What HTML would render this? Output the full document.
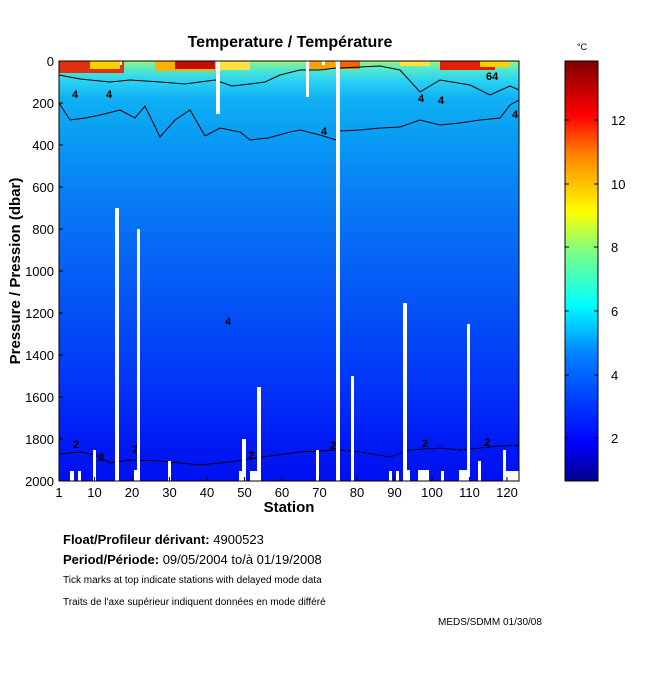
<!DOCTYPE html>
<html><head><meta charset="utf-8"><style>
body{margin:0;background:#fff;width:650px;height:680px;position:relative;font-family:"Liberation Sans",sans-serif;overflow:hidden}
.t{position:absolute;white-space:nowrap;color:#000}
</style></head><body>
<svg width="650" height="680" style="position:absolute;left:0;top:0" font-family="Liberation Sans, sans-serif">
<defs>
<linearGradient id="bg" x1="0" y1="0" x2="0" y2="1">
<stop offset="0" stop-color="#a0f070"/>
<stop offset="0.02" stop-color="#50e8d0"/>
<stop offset="0.05" stop-color="#28d0f4"/>
<stop offset="0.09" stop-color="#10b0f4"/>
<stop offset="0.2" stop-color="#0898f4"/>
<stop offset="0.35" stop-color="#0878f4"/>
<stop offset="0.55" stop-color="#0458f6"/>
<stop offset="0.75" stop-color="#0238f8"/>
<stop offset="0.92" stop-color="#0018f4"/>
<stop offset="1" stop-color="#0010f0"/>
</linearGradient>
<linearGradient id="cb" x1="0" y1="1" x2="0" y2="0">
<stop offset="0" stop-color="#00008c"/>
<stop offset="0.09" stop-color="#0000ff"/>
<stop offset="0.3" stop-color="#0080ff"/>
<stop offset="0.42" stop-color="#00ffff"/>
<stop offset="0.55" stop-color="#80ff80"/>
<stop offset="0.64" stop-color="#ffff00"/>
<stop offset="0.78" stop-color="#ff8000"/>
<stop offset="0.87" stop-color="#ff0000"/>
<stop offset="1" stop-color="#800000"/>
</linearGradient>
</defs>
<rect x="59" y="61" width="460" height="420" fill="url(#bg)"/>
<rect x="59" y="61" width="65" height="12" fill="#e03010"/>
<rect x="90" y="61" width="30" height="8" fill="#ffd000"/>
<rect x="155" y="61" width="60" height="10" fill="#ffb000"/>
<rect x="175" y="61" width="40" height="8" fill="#c01000"/>
<rect x="220" y="61" width="30" height="9" fill="#ffe040"/>
<rect x="310" y="61" width="25" height="8" fill="#ffa000"/>
<rect x="340" y="61" width="20" height="8" fill="#ff6000"/>
<rect x="400" y="61" width="30" height="5" fill="#ffe040"/>
<rect x="440" y="61" width="55" height="9" fill="#e02000"/>
<rect x="480" y="61" width="30" height="6" fill="#ffd000"/>
<g fill="none" stroke="#000" stroke-width="1">
<path d="M59,75 L80,79 L110,82 L130,80 L160,82 L185,84 L215,80 L232,86 L250,84 L265,82 L280,75 L300,70 L320,70 L336,68"/>
<path d="M340,68 L380,66 L400,70 L420,92 L440,80 L470,85 L490,95 L510,86 L519,90"/>
<path d="M59,103 L70,120 L85,118 L100,115 L120,110 L135,118 L145,106 L160,137 L175,120 L190,110 L205,136 L220,128 L240,132 L250,140 L268,138 L290,132 L300,130 L320,135 L336,140"/>
<path d="M340,131 L360,130 L380,128 L400,127 L420,120 L440,125 L460,123 L480,120 L500,118 L510,105 L519,100"/>
<path d="M59,454 L80,452 L95,455 L110,463 L130,460 L160,461 L200,465 L230,462 L250,459 L270,456 L300,452 L335,450"/>
<path d="M340,450 L360,452 L390,457 L410,450 L440,448 L460,450 L480,448 L500,446 L519,445" stroke-dasharray="6,1"/>
</g>
<g font-size="11" font-weight="bold">
<text x="72" y="98">4</text><text x="106" y="98">4</text><text x="321" y="135">4</text><text x="418" y="102">4</text><text x="438" y="104">4</text><text x="512" y="118">4</text>
<text x="486" y="80">64</text><text x="225" y="325">4</text>
<text x="73" y="448">2</text><text x="132" y="453">2</text><text x="330" y="449">2</text><text x="422" y="447">2</text><text x="484" y="446">2</text><text x="248" y="459">2</text><text x="98" y="461">2</text>
</g>
<g fill="#fff">
<rect x="115" y="208" width="4" height="273"/>
<rect x="137" y="229" width="3" height="252"/>
<rect x="216" y="61" width="4" height="53"/>
<rect x="306" y="61" width="3" height="36"/>
<rect x="257" y="387" width="4" height="94"/>
<rect x="336" y="61" width="4" height="420"/>
<rect x="351" y="376" width="3" height="105"/>
<rect x="403" y="303" width="4" height="178"/>
<rect x="467" y="324" width="3" height="157"/>
<rect x="242" y="439" width="4" height="42"/>
<rect x="70" y="471" width="4" height="10"/><rect x="78" y="471" width="3" height="10"/>
<rect x="93" y="450" width="3" height="31"/><rect x="134" y="470" width="6" height="11"/>
<rect x="168" y="461" width="3" height="20"/><rect x="239" y="471" width="3" height="10"/>
<rect x="250" y="471" width="11" height="10"/><rect x="316" y="450" width="3" height="31"/>
<rect x="389" y="471" width="3" height="10"/><rect x="396" y="471" width="3" height="10"/>
<rect x="404" y="470" width="6" height="11"/><rect x="418" y="470" width="11" height="11"/>
<rect x="441" y="471" width="3" height="10"/><rect x="459" y="470" width="9" height="11"/>
<rect x="478" y="461" width="3" height="20"/><rect x="503" y="450" width="3" height="31"/>
<rect x="505" y="471" width="14" height="10"/>
<rect x="120" y="61" width="2" height="4"/><rect x="322" y="61" width="3" height="4"/>
</g>
<rect x="59" y="61" width="460" height="420" fill="none" stroke="#000"/>
<g stroke="#000">
<path d="M59,481v-4M94.5,481v-4M132,481v-4M169.5,481v-4M207,481v-4M244.5,481v-4M282,481v-4M319.5,481v-4M357,481v-4M394.5,481v-4M432,481v-4M469.5,481v-4M507,481v-4"/>
<path d="M59,103h4M59,145h4M59,187h4M59,229h4M59,271h4M59,313h4M59,355h4M59,397h4M59,439h4"/>
</g>
<g font-size="13" text-anchor="middle">
<text x="59" y="497">1</text><text x="94.5" y="497">10</text><text x="132" y="497">20</text><text x="169.5" y="497">30</text><text x="207" y="497">40</text><text x="244.5" y="497">50</text><text x="282" y="497">60</text><text x="319.5" y="497">70</text><text x="357" y="497">80</text><text x="394.5" y="497">90</text><text x="432" y="497">100</text><text x="469.5" y="497">110</text><text x="507" y="497">120</text>
</g>
<g font-size="13" text-anchor="end">
<text x="54" y="66">0</text><text x="54" y="108">200</text><text x="54" y="150">400</text><text x="54" y="192">600</text><text x="54" y="234">800</text><text x="54" y="276">1000</text><text x="54" y="318">1200</text><text x="54" y="360">1400</text><text x="54" y="402">1600</text><text x="54" y="444">1800</text><text x="54" y="486">2000</text>
</g>
<text x="289" y="512" font-size="15" font-weight="bold" text-anchor="middle">Station</text>
<text x="290" y="47" font-size="16" font-weight="bold" text-anchor="middle">Temperature / Température</text>
<text transform="translate(20,271) rotate(-90)" font-size="15" font-weight="bold" text-anchor="middle">Pressure / Pression (dbar)</text>
<rect x="565" y="61" width="33" height="420" fill="url(#cb)" stroke="#000"/>
<g stroke="#000"><path d="M565,120h4M594,120h4M565,184h4M594,184h4M565,247h4M594,247h4M565,311h4M594,311h4M565,375h4M594,375h4M565,438h4M594,438h4"/></g>
<g font-size="13"><text x="611" y="125">12</text><text x="611" y="189">10</text><text x="611" y="252">8</text><text x="611" y="316">6</text><text x="611" y="380">4</text><text x="611" y="443">2</text></g>
<text x="582" y="50" font-size="9" text-anchor="middle">°C</text>
</svg>
<div class="t" style="left:63px;top:532px;font-size:13px"><b>Float/Profileur dérivant:</b> 4900523</div>
<div class="t" style="left:63px;top:552px;font-size:13px"><b>Period/Période:</b> 09/05/2004 to/à 01/19/2008</div>
<div class="t" style="left:63px;top:575px;font-size:10px">Tick marks at top indicate stations with delayed mode data</div>
<div class="t" style="left:63px;top:597px;font-size:10px">Traits de l'axe supérieur indiquent données en mode différé</div>
<div class="t" style="left:438px;top:617px;font-size:10px">MEDS/SDMM 01/30/08</div>
</body></html>
